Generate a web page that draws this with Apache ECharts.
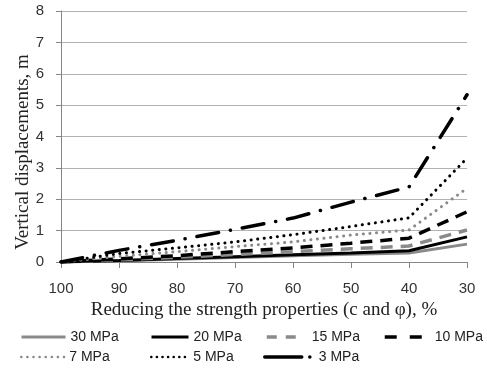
<!DOCTYPE html>
<html><head><meta charset="utf-8">
<script src="https://cdn.jsdelivr.net/npm/echarts@6/dist/echarts.min.js"></script>
<style>html,body{margin:0;padding:0;background:#fff}#c{width:487px;height:380px}</style>
</head><body><div id="c"></div>
<script>
var categories = ["100","90","80","70","60","50","40","30"];
var s30 = [0, 0.04, 0.09, 0.14, 0.20, 0.25, 0.29, 0.57];
var s20 = [0, 0.05, 0.11, 0.17, 0.23, 0.29, 0.36, 0.80];
var s15 = [0, 0.07, 0.15, 0.24, 0.33, 0.42, 0.51, 1.02];
var s10 = [0, 0.10, 0.20, 0.33, 0.45, 0.60, 0.76, 1.60];
var s7  = [0, 0.18, 0.33, 0.49, 0.64, 0.86, 1.02, 2.35];
var s5  = [0, 0.27, 0.45, 0.64, 0.87, 1.13, 1.41, 3.31];
var s3  = [0, 0.37, 0.69, 1.04, 1.40, 1.91, 2.39, 5.33];
var names = ["30 MPa","20 MPa","15 MPa","10 MPa","7 MPa","5 MPa","3 MPa"];

var GRAY = '#8a8a8a', BLACK = '#000';
function ser(name, data, color, width, type, cap) {
  return {name:name, type:'line', data:data, symbol:'none', smooth:false,
    lineStyle:{color:color, width:width, type:type, cap:cap||'butt'},
    itemStyle:{color:color}, emphasis:{disabled:true}};
}
var series = [
  ser(names[0], s30, GRAY, 3, 'solid'),
  ser(names[1], s20, BLACK, 3, 'solid'),
  ser(names[2], s15, GRAY, 3.5, [12,8]),
  ser(names[3], s10, BLACK, 3.5, [12,8]),
  ser(names[4], s7, GRAY, 3, [0.1,6.5], 'round'),
  ser(names[5], s5, BLACK, 3, [0.1,6.5], 'round'),
  ser(names[6], s3, BLACK, 3.5, [22,12,0.1,12], 'round')
];
var lt = {fontFamily:'Liberation Sans', fontSize:14, color:'#222'};
function leg(name, left, top, w, color, width, type, cap) {
  return {left:left, top:top, itemWidth:w, itemHeight:14, data:[name], selectedMode:false,
    itemStyle:{color:'rgba(0,0,0,0)', borderWidth:0, opacity:0},
    lineStyle:{color:color, width:width, type:type, cap:cap||'butt'},
    textStyle:lt};
}
var legends = [
  leg(names[0], 15, 325, 44, GRAY, 3, 'solid'),
  leg(names[1], 145, 325, 37, BLACK, 3, 'solid'),
  leg(names[2], 260, 325, 40, GRAY, 3.5, [10,9,10,100]),
  leg(names[3], 378, 325, 45, BLACK, 3.5, [12,13,12,100]),
  leg(names[4], 15, 345, 43, GRAY, 2.5, [0.1,6], 'round'),
  leg(names[5], 145, 345, 37, BLACK, 2.5, [0.1,5.5], 'round'),
  leg(names[6], 258, 345, 49, BLACK, 3.5, [37,8,0.1,100], 'round')
];
var chart = echarts.init(document.getElementById('c'), null, {renderer:'canvas'});
chart.setOption({
  animation:false,
  backgroundColor:'#fff',
  grid:{left:61, right:20, top:11, bottom:118},
  legend:legends,
  graphic:[{type:'text', x:23, y:152, rotation:Math.PI/2,
    style:{text:'Vertical displacements, m', x:0, y:0, align:'center', verticalAlign:'middle',
      font:'19px "Liberation Serif"', fill:'#222'}}],
  xAxis:{type:'category', data:categories, boundaryGap:false,
    name:'Reducing the strength properties (c and \u03c6), %', nameLocation:'middle', nameGap:39,
    nameTextStyle:{fontFamily:'Liberation Serif', fontSize:19, color:'#222'},
    axisLine:{lineStyle:{color:'#868686', width:1}},
    axisTick:{show:true, length:6, alignWithLabel:true, lineStyle:{color:'#868686'}},
    axisLabel:{margin:19, fontFamily:'Liberation Sans', fontSize:15, color:'#333'},
    splitLine:{show:false}},
  yAxis:{type:'value', min:0, max:8, interval:1,
    axisLine:{show:true, lineStyle:{color:'#868686', width:1}},
    axisTick:{show:true, length:5, lineStyle:{color:'#868686'}},
    axisLabel:{margin:17, fontFamily:'Liberation Sans', fontSize:15, color:'#333'},
    splitLine:{show:true, lineStyle:{color:'#b3b3b3', width:1}}},
  series:series
});
</script></body></html>
